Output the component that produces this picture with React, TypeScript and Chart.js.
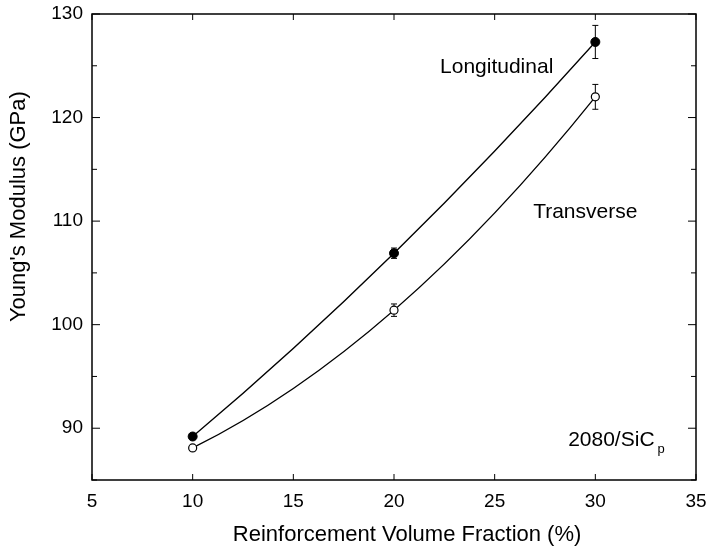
import React, { useEffect, useRef } from "react";
import { Chart, registerables } from "chart.js";
Chart.register(...registerables);

const volumeFraction = [10, 20, 30];
const longitudinal = [89.2, 106.9, 127.3];
const longitudinalErr = [0.3, 0.5, 1.6];
const transverse = [88.1, 101.4, 122.0];
const transverseErr = [0.2, 0.6, 1.2];
const xTicks = [5, 10, 15, 20, 25, 30, 35];
const yTicks = [85, 90, 95, 100, 105, 110, 115, 120, 125, 130];

const FONT = "'Liberation Sans', Arial, sans-serif";

// smooth fitted curve through the three measured points (parabola as a quadratic Bezier) + error bars
const curvePlugin = {
  id: "fitCurves",
  beforeDatasetsDraw(chart: any) {
    const { ctx, scales } = chart;
    const xs = scales.x, ys = scales.y;
    ctx.save();
    ctx.strokeStyle = "#000";
    ctx.lineWidth = 1.3;
    [longitudinal, transverse].forEach((vals) => {
      const p = volumeFraction.map((x, i) => ({ x: xs.getPixelForValue(x), y: ys.getPixelForValue(vals[i]) }));
      const cx = 2 * p[1].x - (p[0].x + p[2].x) / 2;
      const cy = 2 * p[1].y - (p[0].y + p[2].y) / 2;
      ctx.beginPath();
      ctx.moveTo(p[0].x, p[0].y);
      ctx.quadraticCurveTo(cx, cy, p[2].x, p[2].y);
      ctx.stroke();
    });
    ctx.lineWidth = 1;
    const bars = [
      [longitudinal, longitudinalErr],
      [transverse, transverseErr],
    ];
    bars.forEach(([vals, errs]: any) => {
      volumeFraction.forEach((xv, i) => {
        const px = xs.getPixelForValue(xv);
        const y1 = ys.getPixelForValue(vals[i] + errs[i]);
        const y2 = ys.getPixelForValue(vals[i] - errs[i]);
        ctx.beginPath();
        ctx.moveTo(px, y1); ctx.lineTo(px, y2);
        ctx.moveTo(px - 3, y1); ctx.lineTo(px + 3, y1);
        ctx.moveTo(px - 3, y2); ctx.lineTo(px + 3, y2);
        ctx.stroke();
      });
    });
    ctx.restore();
  },
};

const framePlugin = {
  id: "frameTicks",
  afterDatasetsDraw(chart: any) {
    const { ctx, chartArea, scales } = chart;
    const { left, right, top, bottom } = chartArea;
    const xs = scales.x, ys = scales.y;
    ctx.save();
    ctx.strokeStyle = "#000";
    // frame
    ctx.lineWidth = 1.5;
    ctx.strokeRect(left, top, right - left, bottom - top);
    ctx.lineWidth = 1;
    ctx.beginPath();
    xTicks.forEach((v) => {
      const px = xs.getPixelForValue(v);
      ctx.moveTo(px, bottom); ctx.lineTo(px, bottom - 6);
      ctx.moveTo(px, top); ctx.lineTo(px, top + 6);
    });
    yTicks.forEach((v) => {
      const py = ys.getPixelForValue(v);
      const len = v % 10 === 0 ? 8 : 5;
      ctx.moveTo(left, py); ctx.lineTo(left + len, py);
      ctx.moveTo(right, py); ctx.lineTo(right - len, py);
    });
    ctx.stroke();
    // annotations
    ctx.fillStyle = "#000";
    ctx.font = `21px ${FONT}`;
    ctx.textBaseline = "alphabetic";
    ctx.textAlign = "center";
    ctx.fillText("Longitudinal", xs.getPixelForValue(25.1), ys.getPixelForValue(124.3));
    ctx.fillText("Transverse", xs.getPixelForValue(29.5), ys.getPixelForValue(110.3));
    ctx.textAlign = "left";
    const sx = xs.getPixelForValue(28.65);
    const sy = ys.getPixelForValue(88.3);
    ctx.fillText("2080/SiC", sx, sy);
    const w = ctx.measureText("2080/SiC").width;
    ctx.font = `13px ${FONT}`;
    ctx.fillText("p", sx + w + 3, sy + 7);
    // axis titles
    ctx.font = `22px ${FONT}`;
    ctx.textAlign = "center";
    ctx.textBaseline = "middle";
    ctx.fillText("Reinforcement Volume Fraction (%)", xs.getPixelForValue(20.65), 535);
    ctx.save();
    ctx.translate(19, ys.getPixelForValue(111.4));
    ctx.rotate(-Math.PI / 2);
    ctx.fillText("Young's Modulus (GPa)", 0, 0);
    ctx.restore();
    ctx.restore();
  },
};

export default function App() {
  const ref = useRef<HTMLCanvasElement>(null);
  useEffect(() => {
    if (!ref.current) return;
    const chart = new Chart(ref.current, {
      type: "line",
      data: {
        datasets: [
          {
            label: "Longitudinal",
            data: volumeFraction.map((x, i) => ({ x, y: longitudinal[i] })),
            borderColor: "#000",
            backgroundColor: "#000",
            showLine: false,
            pointRadius: 4.5,
            pointBackgroundColor: "#000",
            pointBorderColor: "#000",
          },
          {
            label: "Transverse",
            data: volumeFraction.map((x, i) => ({ x, y: transverse[i] })),
            borderColor: "#000",
            backgroundColor: "#fff",
            showLine: false,
            pointRadius: 4,
            pointBackgroundColor: "#fff",
            pointBorderColor: "#000",
            pointBorderWidth: 1.2,
          },
        ],
      },
      options: {
        animation: false,
        responsive: false,
        layout: { padding: { left: 0, right: 14, top: 14, bottom: 0 } },
        plugins: { legend: { display: false }, tooltip: { enabled: false } },
        scales: {
          x: {
            type: "linear",
            min: 5,
            max: 35,
            afterFit: (s: any) => {
              s.height = 72;
              s.paddingLeft = 0;
              s.paddingRight = 0;
            },
            afterBuildTicks: (s: any) => { s.ticks = xTicks.map((v) => ({ value: v })); },
            grid: { display: false, drawTicks: false },
            border: { display: false },
            ticks: { color: "#000", padding: 10, font: { family: FONT, size: 19 } },
            title: { display: false },
          },
          y: {
            type: "linear",
            min: 85,
            max: 130,
            afterFit: (s: any) => {
              s.width = 92;
              s.paddingTop = 0;
              s.paddingBottom = 0;
            },
            afterBuildTicks: (s: any) => { s.ticks = yTicks.map((v) => ({ value: v })); },
            grid: { display: false, drawTicks: false },
            border: { display: false },
            ticks: {
              color: "#000",
              padding: 9,
              font: { family: FONT, size: 19 },
              callback: (v: any) => (Number(v) % 10 === 0 ? String(v) : ""),
            },
            title: { display: false },
          },
        },
      },
      plugins: [curvePlugin, framePlugin],
    } as any);
    return () => chart.destroy();
  }, []);
  return (
    <div style={{ position: "fixed", left: 0, top: 0, width: 710, height: 552, background: "#fff" }}>
      <canvas ref={ref} width={710} height={552} />
    </div>
  );
}
